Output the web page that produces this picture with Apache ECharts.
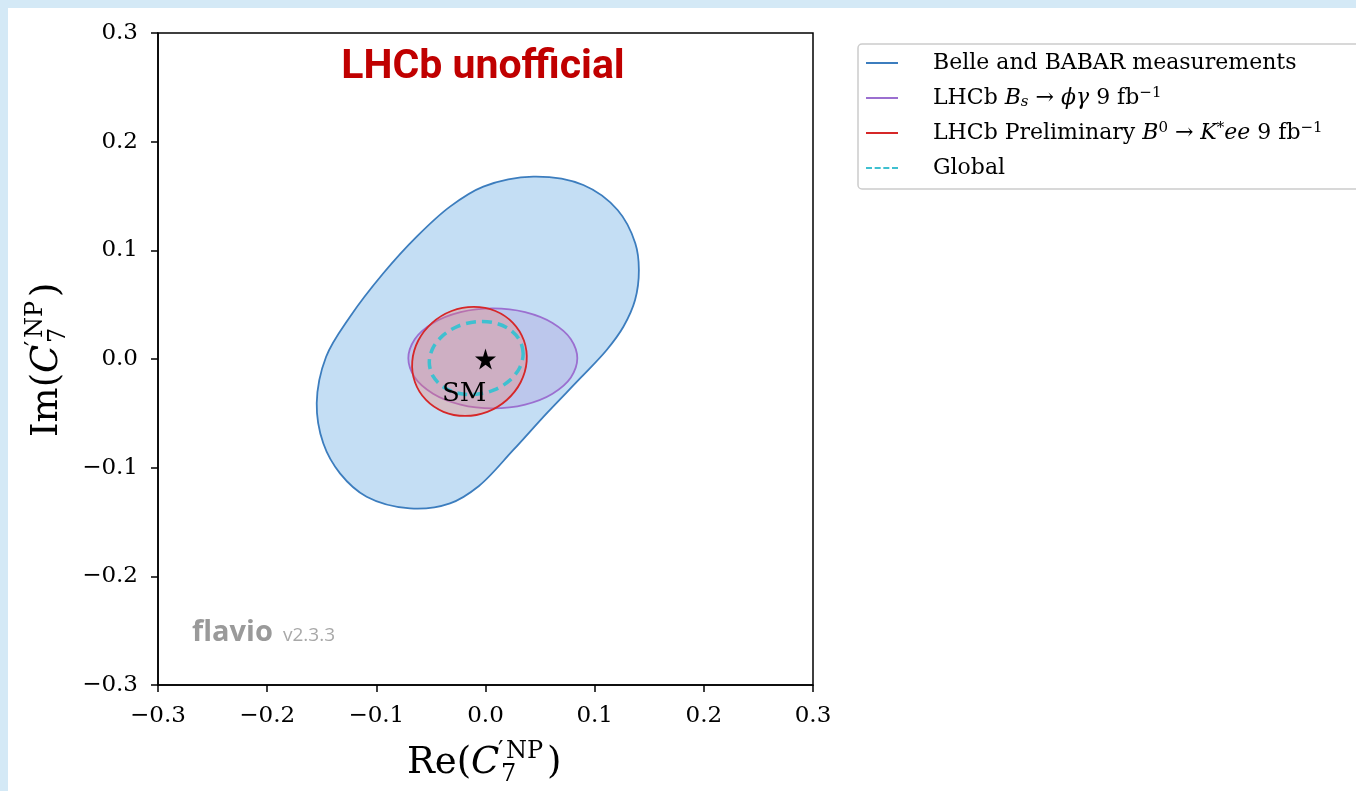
<!DOCTYPE html>
<html>
<head>
<meta charset="utf-8">
<script src="https://cdn.jsdelivr.net/npm/echarts@6/dist/echarts.min.js"></script>
<style>
  html, body { margin: 0; padding: 0; background: #ffffff; }
  #chart { width: 1356px; height: 791px; }
</style>
</head>
<body>
<div id="chart"></div>
<script>
// Axis range and tick step for Re(C7') and Im(C7')
const axisRange = [-0.3, 0.3];
const tickStep = 0.1;

// 1-sigma contours in the (Re C7', Im C7') plane
const belleBabar = [
  [0.0438, 0.1678], [0.0896, 0.1601], [0.1210, 0.1371], [0.1372, 0.1065],
  [0.1405, 0.0819], [0.1370, 0.0543], [0.1263, 0.0297], [0.1110, 0.0083],
  [0.0875, -0.0170], [0.0560, -0.0500], [0.0255, -0.0837], [-0.0060, -0.1168],
  [-0.0325, -0.1328], [-0.0692, -0.1374], [-0.1089, -0.1267], [-0.1333, -0.1052],
  [-0.1486, -0.0776], [-0.1546, -0.0408], [-0.1460, 0.0021], [-0.1241, 0.0389],
  [-0.0936, 0.0789], [-0.0630, 0.1126], [-0.0325, 0.1402], [-0.0020, 0.1586]
];
const lhcbBsPhiGamma = [
  [0.0841, 0.0006], [0.0782, 0.0182], [0.0614, 0.0331], [0.0363, 0.0431],
  [0.0067, 0.0466], [-0.0229, 0.0431], [-0.0480, 0.0331], [-0.0648, 0.0182],
  [-0.0707, 0.0006], [-0.0648, -0.0170], [-0.0480, -0.0319], [-0.0229, -0.0419],
  [0.0067, -0.0454], [0.0363, -0.0419], [0.0614, -0.0319], [0.0782, -0.0170]
];
const lhcbKstee = [
  [0.0377, -0.0022], [0.0352, 0.0170], [0.0251, 0.0333], [0.0091, 0.0442],
  [-0.0107, 0.0480], [-0.0311, 0.0442], [-0.0489, 0.0333], [-0.0616, 0.0170],
  [-0.0671, -0.0022], [-0.0646, -0.0214], [-0.0545, -0.0377], [-0.0385, -0.0486],
  [-0.0187, -0.0524], [0.0017, -0.0486], [0.0195, -0.0377], [0.0322, -0.0214]
];
const globalFit = [
  [0.0345, 0.0049], [0.0312, 0.0174], [0.0219, 0.0273], [0.0080, 0.0333],
  [-0.0085, 0.0343], [-0.0250, 0.0303], [-0.0389, 0.0217], [-0.0482, 0.0100],
  [-0.0515, -0.0031], [-0.0482, -0.0156], [-0.0389, -0.0255], [-0.0250, -0.0315],
  [-0.0085, -0.0325], [0.0080, -0.0285], [0.0219, -0.0199], [0.0312, -0.0082]
];

// Standard Model point and its label
const smPoint = [0, 0];
const smLabelAt = [-0.0195, -0.0325];

const seriesNames = [
  'Belle and BABAR measurements',
  'LHCb Bs phi gamma',
  'LHCb Preliminary B0 Kstar ee',
  'Global'
];
const legendLabels = {
  'Belle and BABAR measurements': 'Belle and BABAR measurements',
  'LHCb Bs phi gamma': 'LHCb {i|B}{sub|s} \u2192 {i|\u03d5\u03b3} 9 fb{sup|\u22121}',
  'LHCb Preliminary B0 Kstar ee': 'LHCb Preliminary {i|B}{sup|0} \u2192 {i|K}{sup|*}{i|ee} 9 fb{sup|\u22121}',
  'Global': 'Global'
};

const SERIF = '"DejaVu Serif", "Liberation Serif", serif';

// Closed smooth outline through pixel points (centripetal Catmull-Rom as cubic Beziers)
function closedCurve(px) {
  const n = px.length;
  const dist = function (a, b) { return Math.hypot(b[0] - a[0], b[1] - a[1]) || 1e-6; };
  let d = 'M' + px[0][0] + ',' + px[0][1];
  for (let i = 0; i < n; i++) {
    const p0 = px[(i - 1 + n) % n], p1 = px[i], p2 = px[(i + 1) % n], p3 = px[(i + 2) % n];
    const l1 = dist(p0, p1), l2 = dist(p1, p2), l3 = dist(p2, p3);
    const d1 = Math.sqrt(l1), d2 = Math.sqrt(l2), d3 = Math.sqrt(l3);
    const c1 = [0, 1].map(function (k) {
      return (l1 * p2[k] - l2 * p0[k] + (2 * l1 + 3 * d1 * d2 + l2) * p1[k]) / (3 * d1 * (d1 + d2));
    });
    const c2 = [0, 1].map(function (k) {
      return (l3 * p1[k] - l2 * p3[k] + (2 * l3 + 3 * d3 * d2 + l2) * p2[k]) / (3 * d3 * (d3 + d2));
    });
    d += 'C' + c1[0] + ',' + c1[1] + ',' + c2[0] + ',' + c2[1] + ',' + p2[0] + ',' + p2[1];
  }
  return d + 'Z';
}

function contour(name, pts, stroke, fill, width, dash, z) {
  return {
    type: 'custom',
    name: name,
    coordinateSystem: 'cartesian2d',
    z: z,
    silent: true,
    itemStyle: { color: stroke },
    data: [pts[0]],
    renderItem: function (params, api) {
      const px = pts.map(function (p) { return api.coord(p); });
      return {
        type: 'path',
        shape: { pathData: closedCurve(px) },
        style: { fill: fill, stroke: stroke, lineWidth: width, lineDash: dash || null }
      };
    }
  };
}

function tickFmt(v) {
  const r = Math.round(v * 10) / 10;
  return (r < 0 ? '\u2212' : '') + Math.abs(r).toFixed(1);
}

// Axis title of the form  Xx(C'^NP_7), built from positioned text pieces
function mathTitle(prefix, x, y, rotation) {
  const base = 37, small = 24;
  const pieces = [
    { t: prefix, dx: 0, dy: 0, size: base, italic: false },
    { t: 'C', dx: 64, dy: 0, size: base, italic: true },
    { t: '\u2032', dx: 91, dy: -11, size: small, italic: false },
    { t: 'NP', dx: 99, dy: -11, size: small, italic: false },
    { t: '7', dx: 94, dy: 12, size: small, italic: false },
    { t: ')', dx: 140, dy: 0, size: base, italic: false }
  ];
  return {
    type: 'group',
    x: x, y: y, rotation: rotation,
    children: pieces.map(function (p) {
      return {
        type: 'text', x: p.dx, y: p.dy,
        style: {
          text: p.t, fill: '#000',
          fontFamily: SERIF, fontSize: p.size,
          fontStyle: p.italic ? 'italic' : 'normal',
          align: 'left', verticalAlign: 'middle'
        }
      };
    })
  };
}

const chart = echarts.init(document.getElementById('chart'));

const dashIcon = 'path://M0,0h9v3h-9zM13,0h9v3h-9zM26,0h9v3h-9zM39,0h9v3h-9z';
const lineIcon = 'path://M0,0h48v3h-48z';

chart.setOption({
  animation: false,
  backgroundColor: '#ffffff',
  grid: {
    left: 158, top: 33, right: 543, bottom: 106,
    show: true, borderColor: '#000', borderWidth: 1.5, backgroundColor: 'transparent'
  },
  xAxis: {
    type: 'value', min: axisRange[0], max: axisRange[1], interval: tickStep,
    splitLine: { show: false },
    axisLine: { show: true, onZero: false, lineStyle: { color: '#000', width: 1.5 } },
    axisTick: { show: true, inside: false, length: 7, lineStyle: { color: '#000', width: 1.5 } },
    axisLabel: { formatter: tickFmt, margin: 20, color: '#000', fontFamily: SERIF, fontSize: 23 }
  },
  yAxis: {
    type: 'value', min: axisRange[0], max: axisRange[1], interval: tickStep,
    splitLine: { show: false },
    axisLine: { show: true, onZero: false, lineStyle: { color: '#000', width: 1.5 } },
    axisTick: { show: true, inside: false, length: 7, lineStyle: { color: '#000', width: 1.5 } },
    axisLabel: { formatter: tickFmt, margin: 20, color: '#000', fontFamily: SERIF, fontSize: 23 }
  },
  legend: {
    orient: 'vertical',
    left: 858, top: 44,
    padding: [7, 40, 9, 8],
    backgroundColor: '#ffffff',
    borderColor: '#cccccc', borderWidth: 1.5, borderRadius: 4,
    itemWidth: 50, itemHeight: 2, itemGap: 11,
    selectedMode: false,
    data: [
      { name: seriesNames[0], icon: lineIcon, itemStyle: { color: '#3c7dbe' } },
      { name: seriesNames[1], icon: lineIcon, itemStyle: { color: '#9b6fd0' } },
      { name: seriesNames[2], icon: lineIcon, itemStyle: { color: '#d62728' } },
      { name: seriesNames[3], icon: dashIcon, itemStyle: { color: '#3fc0d0' } }
    ],
    formatter: function (name) { return legendLabels[name]; },
    textStyle: {
      color: '#000', fontFamily: SERIF, fontSize: 22, lineHeight: 24,
      padding: [0, 0, 0, 21],
      rich: {
        i: { fontFamily: SERIF, fontStyle: 'italic', fontSize: 22, color: '#000' },
        sub: { fontFamily: SERIF, fontStyle: 'italic', fontSize: 15, color: '#000', verticalAlign: 'bottom', lineHeight: 24 },
        sup: { fontFamily: SERIF, fontSize: 15, color: '#000', verticalAlign: 'top', lineHeight: 24 }
      }
    }
  },
  series: [
    contour(seriesNames[0], belleBabar, '#3c7dbe', 'rgba(138,189,234,0.5)', 1.8, null, 2),
    contour(seriesNames[1], lhcbBsPhiGamma, '#9b6fd0', 'rgba(160,120,210,0.22)', 1.8, null, 3),
    contour(seriesNames[2], lhcbKstee, '#d62728', 'rgba(250,120,100,0.3)', 1.8, null, 4),
    contour(seriesNames[3], globalFit, '#3fc0d0', 'none', 3.5, [10, 6], 5),
    {
      type: 'scatter', name: 'SM', z: 6, silent: true,
      data: [smPoint],
      symbol: 'path://M50,0 L61,35 L98,35 L68,57 L79,91 L50,70 L21,91 L32,57 L2,35 L39,35 Z',
      symbolSize: 21,
      itemStyle: { color: '#000', opacity: 1 }
    },
    {
      type: 'scatter', name: 'SM label', z: 7, silent: true,
      data: [smLabelAt],
      symbolSize: 1,
      itemStyle: { color: 'rgba(0,0,0,0)', opacity: 1 },
      label: {
        show: true, position: 'inside', formatter: 'SM',
        color: '#000', opacity: 1, fontFamily: SERIF, fontSize: 26
      }
    }
  ],
  graphic: [
    { type: 'rect', z: 100, shape: { x: 0, y: 0, width: 1356, height: 8 }, style: { fill: '#d4e9f6' } },
    { type: 'rect', z: 100, shape: { x: 0, y: 0, width: 8, height: 791 }, style: { fill: '#d4e9f6' } },
    {
      type: 'text', x: 483, y: 68, z: 50,
      style: { text: 'LHCb unofficial', fill: '#c00000', fontFamily: 'Roboto', fontWeight: 'bold', fontSize: 41, align: 'center', verticalAlign: 'middle' }
    },
    {
      type: 'text', x: 192, y: 633, z: 50,
      style: { text: 'flavio', fill: '#9a9a9a', fontFamily: '"Open Sans"', fontWeight: 'bold', fontSize: 29, align: 'left', verticalAlign: 'middle' }
    },
    {
      type: 'text', x: 283, y: 636, z: 50,
      style: { text: 'v2.3.3', fill: '#a8a8a8', fontFamily: '"Open Sans"', fontSize: 19, align: 'left', verticalAlign: 'middle' }
    },
    mathTitle('Re(', 407, 763, 0),
    mathTitle('Im(', 47, 437, Math.PI / 2)
  ]
});
</script>
</body>
</html>
